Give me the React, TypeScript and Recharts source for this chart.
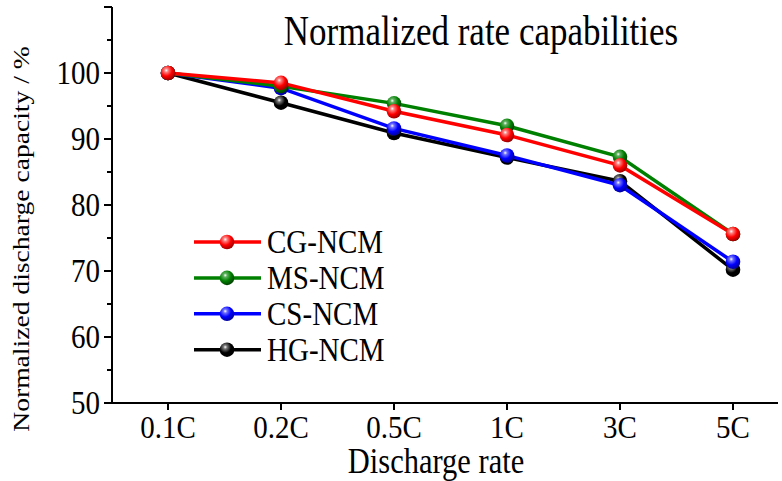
import React from "react";
import { Customized, Legend, Line, LineChart, XAxis, YAxis } from "recharts";

const rates = ["0.1C", "0.2C", "0.5C", "1C", "3C", "5C"];
const cgNcm = [100, 98.5, 94.2, 90.6, 86.0, 75.6];
const msNcm = [100, 98.0, 95.4, 92.0, 87.3, 75.6];
const csNcm = [100, 97.7, 91.6, 87.5, 83.0, 71.4];
const hgNcm = [100, 95.5, 90.9, 87.2, 83.6, 70.2];
const yTicks = [50, 55, 60, 65, 70, 75, 80, 85, 90, 95, 100, 105, 110];

const legendOrder = ["CG-NCM", "MS-NCM", "CS-NCM", "HG-NCM"];
const colors: Record<string, string[]> = {
  "CG-NCM": ["#ff0000", "#ff8080", "#900000"],
  "MS-NCM": ["#008000", "#60b060", "#003800"],
  "CS-NCM": ["#0000ff", "#7070ff", "#000090"],
  "HG-NCM": ["#000000", "#777777", "#000000"],
};

const data = rates.map((rate, i) => ({
  rate,
  cg: cgNcm[i],
  ms: msNcm[i],
  cs: csNcm[i],
  hg: hgNcm[i],
}));

const FONT = '"Liberation Serif", "Times New Roman", serif';

function Ball({ cx, cy, name, r = 7.3, id }: any) {
  const [base, light, dark] = colors[name];
  return (
    <g>
      <defs>
        <radialGradient id={id} cx="0.38" cy="0.32" r="0.72">
          <stop offset="0%" stopColor="#ffffff" />
          <stop offset="18%" stopColor={light} />
          <stop offset="55%" stopColor={base} />
          <stop offset="100%" stopColor={dark} />
        </radialGradient>
      </defs>
      <circle cx={cx} cy={cy} r={r} fill={`url(#${id})`} />
    </g>
  );
}

const makeDot = (name: string) => (props: any) =>
  <Ball key={`${name}-${props.index}`} cx={props.cx} cy={props.cy} name={name} id={`g-${name}-${props.index}`} />;

function YTick({ x, y, payload }: any) {
  const v = payload.value;
  const major = v % 10 === 0;
  return (
    <g>
      <line x1={x - (major ? 8 : 5)} x2={x} y1={y} y2={y} stroke="#000" strokeWidth={2} />
      {major && v < 110 && (
        <text transform={`translate(${x - 12},${y}) scale(1,1.13)`} textAnchor="end" dy="0.34em"
          fontSize={29} fontFamily={FONT} fill="#000">{v}</text>
      )}
    </g>
  );
}

function XTick({ x, y, payload }: any) {
  return (
    <g>
      <line x1={x} x2={x} y1={y} y2={y + 7} stroke="#000" strokeWidth={2} />
      <text transform={`translate(${x},${y + 35}) scale(1,1.06)`} textAnchor="middle"
        fontSize={29} fontFamily={FONT} fill="#000">{payload.value}</text>
    </g>
  );
}

function Labels() {
  return (
    <g fontFamily={FONT} fill="#000">
      <text transform="translate(481,45) scale(1,1.18)" textAnchor="middle" fontSize={35}>
        Normalized rate capabilities
      </text>
      <text transform="translate(436,473) scale(1,1.15)" textAnchor="middle" fontSize={30.5}>
        Discharge rate
      </text>
      <text transform="translate(29,239) rotate(-90) scale(1.2,1)" textAnchor="middle" fontSize={23}>
        Normalized discharge capacity / %
      </text>
    </g>
  );
}

function LegendBox({ payload }: any) {
  const items = legendOrder.map((n) => (payload || []).find((p: any) => p.value === n)).filter(Boolean);
  return (
    <svg width={210} height={165}>
      {items.map((p: any, i: number) => {
        const cy = 20 + i * 35.9;
        return (
          <g key={p.value}>
            <line x1={4} x2={71} y1={cy} y2={cy} stroke={p.color} strokeWidth={3.5} />
            <Ball cx={37} cy={cy} name={p.value} id={`lg-${i}`} />
            <text transform={`translate(77,${cy + 11}) scale(1,1.15)`} fontSize={29} fontFamily={FONT} fill="#000">
              {p.value}
            </text>
          </g>
        );
      })}
    </svg>
  );
}

export default function App() {
  return (
    <div style={{ position: "absolute", left: 0, top: 0, background: "#fff" }}>
      <LineChart width={782} height={481} data={data} margin={{ top: 7, right: 4, left: 0, bottom: 0 }}>
        <XAxis dataKey="rate" height={78} padding={{ left: 56, right: 45 }} axisLine={{ stroke: "#000", strokeWidth: 2 }}
          tickLine={false} tickSize={0} tickMargin={0} tick={<XTick />} interval={0} />
        <XAxis xAxisId="top" dataKey="rate" orientation="top" height={0} tick={false} tickLine={false}
          axisLine={{ stroke: "#000", strokeWidth: 2 }} />
        <YAxis domain={[50, 110]} ticks={yTicks} width={112} axisLine={{ stroke: "#000", strokeWidth: 2 }}
          tickLine={false} tickSize={0} tickMargin={0} tick={<YTick />} interval={0} />
        <YAxis yAxisId="right" orientation="right" width={0} domain={[50, 110]} tick={false} tickLine={false}
          axisLine={{ stroke: "#000", strokeWidth: 2 }} />
        <Legend layout="vertical" align="center" verticalAlign="middle" content={<LegendBox />}
          wrapperStyle={{ left: 190, top: 222, width: 210, height: 165 }} />
        <Line dataKey="hg" name="HG-NCM" stroke="#000000" strokeWidth={3.5} dot={makeDot("HG-NCM")} isAnimationActive={false} />
        <Line dataKey="cs" name="CS-NCM" stroke="#0000ff" strokeWidth={3.5} dot={makeDot("CS-NCM")} isAnimationActive={false} />
        <Line dataKey="ms" name="MS-NCM" stroke="#008000" strokeWidth={3.5} dot={makeDot("MS-NCM")} isAnimationActive={false} />
        <Line dataKey="cg" name="CG-NCM" stroke="#ff0000" strokeWidth={3.5} dot={makeDot("CG-NCM")} isAnimationActive={false} />
        <Customized component={Labels} />
      </LineChart>
    </div>
  );
}
